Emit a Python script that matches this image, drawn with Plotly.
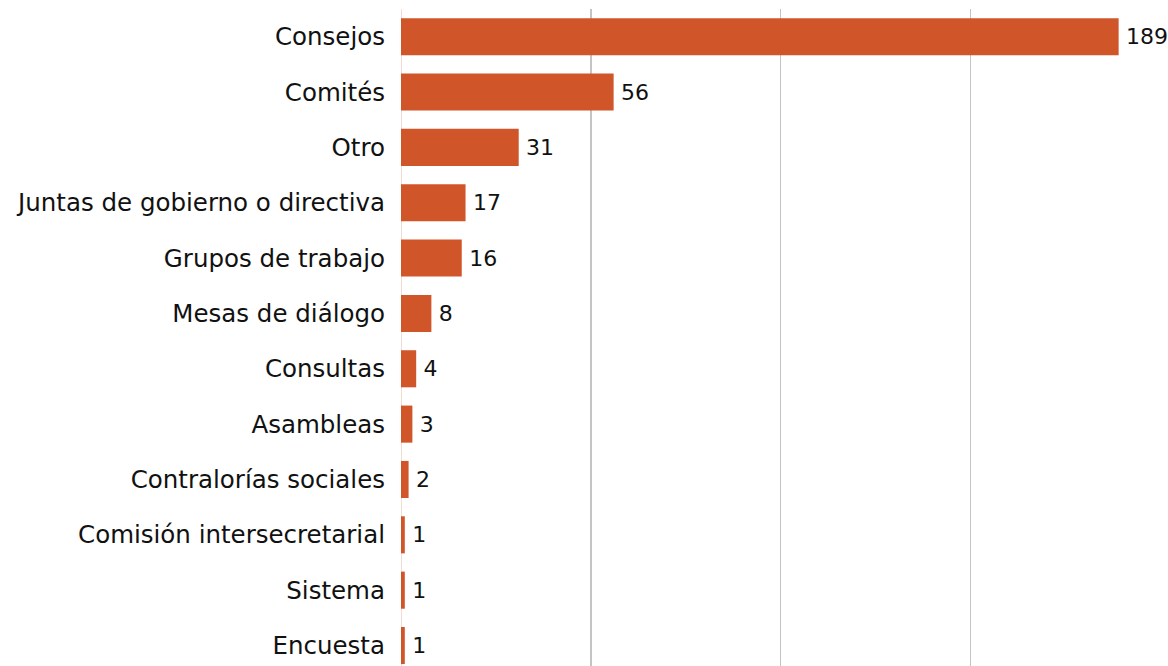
import plotly.graph_objects as go

categories = ["Consejos", "Comités", "Otro", "Juntas de gobierno o directiva",
              "Grupos de trabajo", "Mesas de diálogo", "Consultas", "Asambleas",
              "Contralorías sociales", "Comisión intersecretarial", "Sistema", "Encuesta"]
values = [189, 56, 31, 17, 16, 8, 4, 3, 2, 1, 1, 1]
grid_ticks = [0, 50, 100, 150]

FONT = "DejaVu Sans"
fig = go.Figure(go.Bar(
    x=values, y=categories, orientation="h",
    marker=dict(color="#D0562A", line=dict(width=0)),
    texttemplate="\u2009%{x}", textposition="outside", constraintext="none",
    textfont=dict(family=FONT, size=22, color="#111111"),
    cliponaxis=False, width=0.67, hoverinfo="skip",
))

fig.update_layout(
    width=1168, height=666,
    margin=dict(l=401, r=0, t=9, b=0, autoexpand=False),
    paper_bgcolor="white", plot_bgcolor="white",
    showlegend=False,
    xaxis=dict(range=[0, 202], tickvals=grid_ticks, showgrid=True, gridcolor="#c4c4c4",
               gridwidth=1.5, showticklabels=False, zeroline=True,
               zerolinecolor="#f0dcd4", zerolinewidth=1, showline=False, fixedrange=True),
    yaxis=dict(range=[11.37, -0.5], type="category", showgrid=False, fixedrange=True,
               tickfont=dict(family=FONT, size=24.5, color="#111111"),
               ticklabelstandoff=15, showline=False, ticks="", automargin=False),
)

fig.write_html(
    "out.html",
    config={"displayModeBar": False, "staticPlot": True},
    post_script="document.body.style.margin='0';document.body.style.overflow='hidden';",
)
